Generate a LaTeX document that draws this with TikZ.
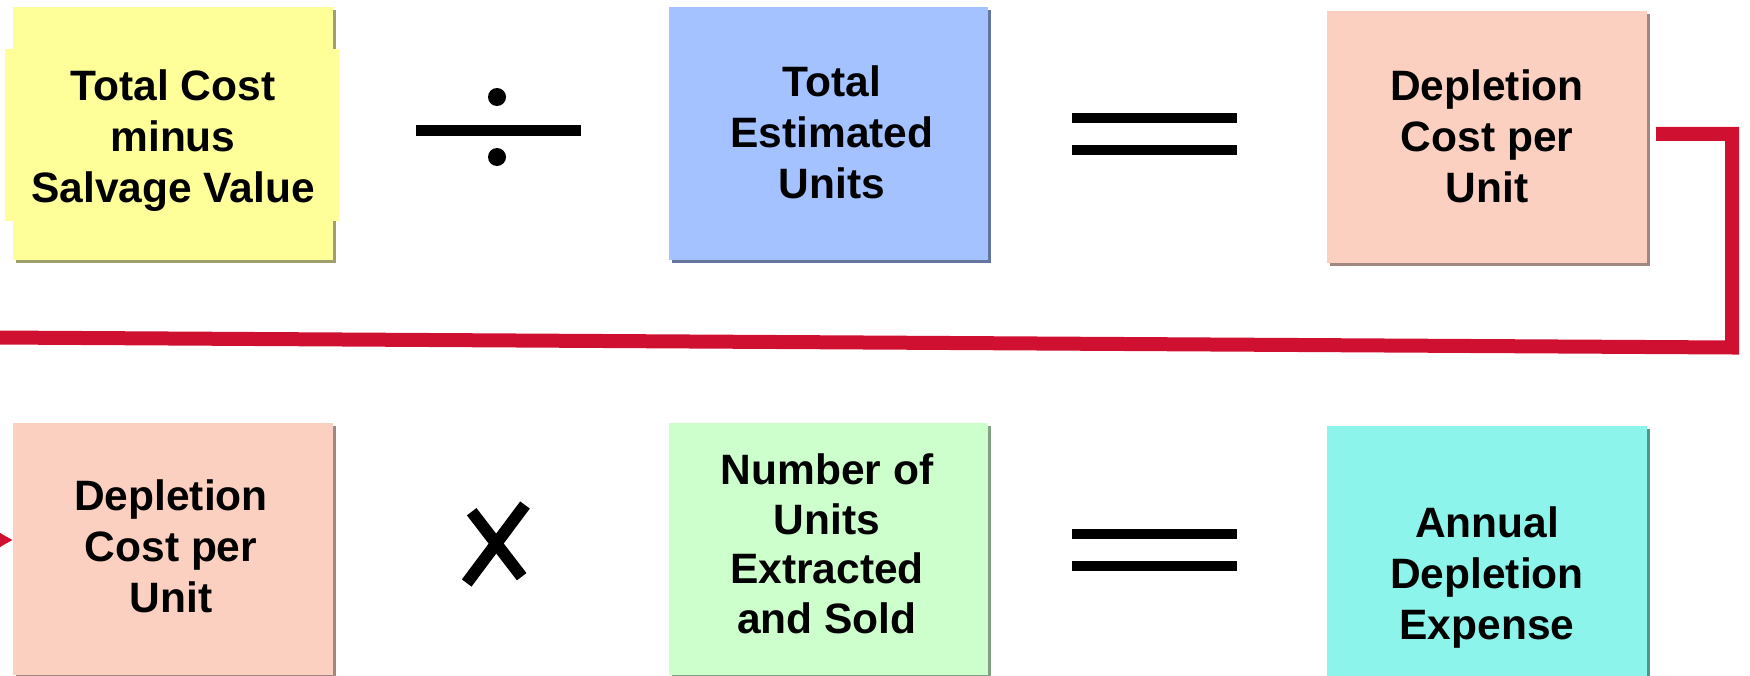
\documentclass[tikz,border=0pt]{standalone}
\usepackage{fontspec}
\setmainfont{Liberation Sans}
\usetikzlibrary{shadows,arrows.meta}
\definecolor{yfill}{RGB}{255,255,153}
\definecolor{yshad}{RGB}{160,160,110}
\definecolor{bfill}{RGB}{164,194,255}
\definecolor{bshad}{RGB}{100,118,158}
\definecolor{pfill}{RGB}{251,208,192}
\definecolor{pshad}{RGB}{160,136,128}
\definecolor{gfill}{RGB}{204,255,204}
\definecolor{gshad}{RGB}{130,160,130}
\definecolor{cfill}{RGB}{140,244,234}
\definecolor{cshad}{RGB}{80,150,140}
\definecolor{conred}{RGB}{208,16,48}
\begin{document}
\begin{tikzpicture}[x=1pt,y=-1pt,
  box/.style={rectangle, inner sep=0pt, outer sep=0pt, minimum width=320pt, minimum height=253pt},
  shad/.style={drop shadow={shadow xshift=3pt, shadow yshift=-3pt, fill=#1, opacity=1}},
  txt/.style={inner sep=0pt, align=center, font=\fontsize{42.5}{51}\selectfont\bfseries},
  opbar/.style={line width=10.5pt, line cap=butt},
  redline/.style={draw=conred, line join=miter, line width=14pt}]
\clip (0,0) rectangle (1750,676);
% top row
\node[box, fill=yfill, shad=yshad] (tc) at (173,133.5) {};
\fill[yfill] (5,49) rectangle (339,221);
\node[txt] (tct) at (173,141) {Total Cost\\minus\\Salvage Value};
\node[box, minimum width=319pt, fill=bfill, shad=bshad] (te) at (828.5,133.5) {};
\node[txt] (tet) at (832,132.5) {Total\\Estimated\\Units};
\node[box, minimum height=252pt, fill=pfill, shad=pshad] (tp) at (1487,137) {};
\node[txt] (tpt) at (1487,136.5) {Depletion\\Cost per\\Unit};
% bottom row
\node[box, minimum height=252pt, fill=pfill, shad=pshad] (bl) at (173,549) {};
\node[txt] (blt) at (171,546) {Depletion\\Cost per\\Unit};
\node[box, minimum width=319pt, minimum height=252pt, fill=gfill, shad=gshad] (bn) at (828.5,549) {};
\node[txt, font=\fontsize{42.5}{49.5}\selectfont\bfseries] (bnt) at (827,544) {Number of\\Units\\Extracted\\and Sold};
\node[box, minimum height=252pt, fill=cfill, shad=cshad] (ba) at (1487,552) {};
\node[txt] (bat) at (1487,578) {Annual\\Depletion\\Expense};
% operators
\draw[opbar, line width=11pt] (416,130.5) -- (581,130.5);
\fill (497,97) circle (9);
\fill (497,157) circle (9);
\draw[opbar] (1072,118) -- (1237,118);
\draw[opbar] (1072,150) -- (1237,150);
\draw[opbar] (1072,534) -- (1237,534);
\draw[opbar] (1072,566) -- (1237,566);
\draw[line width=12pt, line cap=butt] (471.7,511.7) -- (521.7,576.7);
\draw[line width=12pt, line cap=butt] (525,505) -- (466.7,583);
% connector
\coordinate (c1) at (1732,134);
\coordinate (c2) at (1732,347.5);
\coordinate (c3) at (-40,337.3);
\coordinate (c4) at (-40,540);
\draw[redline]
  ([shift={(9,-3)}]tp.east) -- (c1) -- (c2) -- (c3) -- (c4) -- ([xshift=-12pt,yshift=9pt]bl.west);
\draw[redline, -{Triangle[length=24pt,width=24pt]}]
  ([xshift=-14pt,yshift=9pt]bl.west) -- ([yshift=9pt]bl.west);
\end{tikzpicture}
\end{document}
